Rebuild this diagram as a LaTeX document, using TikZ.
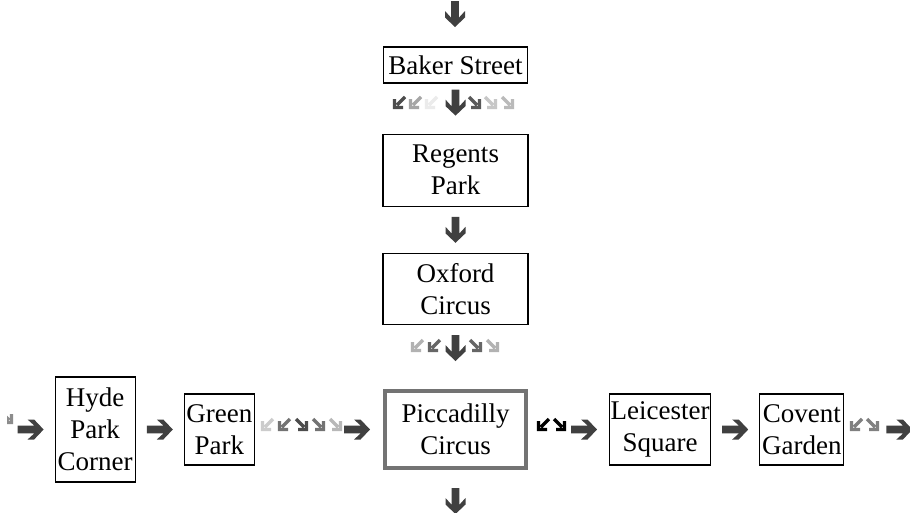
\documentclass[tikz,border=0pt]{standalone}
\usepackage{fontspec}
\setmainfont{Liberation Serif}
\usepackage{xcolor}
\usepackage{tikz}
\usetikzlibrary{positioning, calc}

\definecolor{arrowgray}{HTML}{404040}

\tikzset{
    station/.style={draw, line width=1.2pt, align=center, inner sep=0pt,
                    minimum width=145pt, minimum height=71pt},
    current/.style={station, draw=black!55, line width=4pt,
                    minimum width=141pt, minimum height=77pt},
    % heavy arrow, pointing right
    bigarrow/.pic={
        \fill[arrowgray] (13,0) -- (3.5,10) -- (-3,10) -- (3.8,3.8) -- (-13,3.8)
            -- (-13,-3.8) -- (3.8,-3.8) -- (-3,-10) -- (3.5,-10) -- cycle;
    },
    % small arrow, pointing down right
    tinyarrow/.pic={
        \draw[line width=3.4pt] (-5,-5) -- (3,3) (5.5,-3) -- (5.5,5.5) -- (-3,5.5);
    }
}

\begin{document}
\begin{tikzpicture}[x=1pt,y=-1pt,font=\fontsize{27}{32}\selectfont]
    \clip (0,0) rectangle (910,512);
    \fill[white] (0,0) rectangle (910,512);

    % the line down the middle
    \node[station, minimum width=144pt, minimum height=36pt] (baker) at (455.5,65) {Baker Street};
    \node[station, minimum height=72pt] (regents) [below=50pt of baker] {Regents\\Park};
    \node[station] (oxford) [below=46pt of regents] {Oxford\\Circus};
    \node[current] (piccadilly) [below=64pt of oxford] {Piccadilly\\Circus};

    % the line across
    \node[station, minimum width=70pt] (green) [left=128pt of piccadilly] {Green\\Park};
    \node[station, minimum width=80pt, minimum height=105pt] (hyde) [left=48pt of green] {Hyde\\Park\\Corner};
    \node[station, minimum width=101pt] (leicester) [right=81pt of piccadilly] {Leicester\\Square};
    \node[station, minimum width=84pt] (covent) [right=48pt of leicester] {Covent\\Garden};

    % big arrows
    \pic[rotate=-90] at (455,14) {bigarrow};
    \pic[rotate=-90] at ([yshift=-19pt]baker.south) {bigarrow};
    \pic[rotate=-90] at ($(regents.south)!.5!(oxford.north)$) {bigarrow};
    \pic[rotate=-90] at ([yshift=-23pt]oxford.south) {bigarrow};
    \pic[rotate=-90] at ([yshift=-31pt]piccadilly.south) {bigarrow};
    \pic at ([xshift=-24pt]hyde.west) {bigarrow};
    \pic at ($(hyde.east)!.5!(green.west)$) {bigarrow};
    \pic at ([xshift=-26pt]piccadilly.west) {bigarrow};
    \pic at ([xshift=-25pt]leicester.west) {bigarrow};
    \pic at ($(leicester.east)!.5!(covent.west)$) {bigarrow};
    \pic at ([xshift=55pt]covent.east) {bigarrow};

    % small arrows
    \foreach \x/\c in {400/black!70, 416/black!35, 432/black!8}
        \pic[xscale=-1, color=\c] at (\x,102) {tinyarrow};
    \foreach \x/\c in {474/black!65, 490/black!22, 507/black!27}
        \pic[color=\c] at (\x,102) {tinyarrow};
    \foreach \x/\c in {418/black!30, 435/black!60}
        \pic[xscale=-1, color=\c] at (\x,345) {tinyarrow};
    \foreach \x/\c in {475/black!60, 492/black!30}
        \pic[color=\c] at (\x,345) {tinyarrow};
    \foreach \x/\c in {268/black!20, 285/black!55}
        \pic[xscale=-1, color=\c] at (\x,424) {tinyarrow};
    \foreach \x/\c in {301/black!70, 318/black!55, 335/black!28}
        \pic[color=\c] at (\x,424) {tinyarrow};
    \pic[xscale=-1, color=black] at (544,424) {tinyarrow};
    \pic[color=black] at (559,424) {tinyarrow};
    \pic[xscale=-1, color=black!50] at (857,424) {tinyarrow};
    \pic[color=black!50] at (872,424) {tinyarrow};
    \begin{scope}
        \clip (7,400) rectangle (20,440);
        \pic[color=black!45] at (6,417) {tinyarrow};
    \end{scope}
\end{tikzpicture}
\end{document}
